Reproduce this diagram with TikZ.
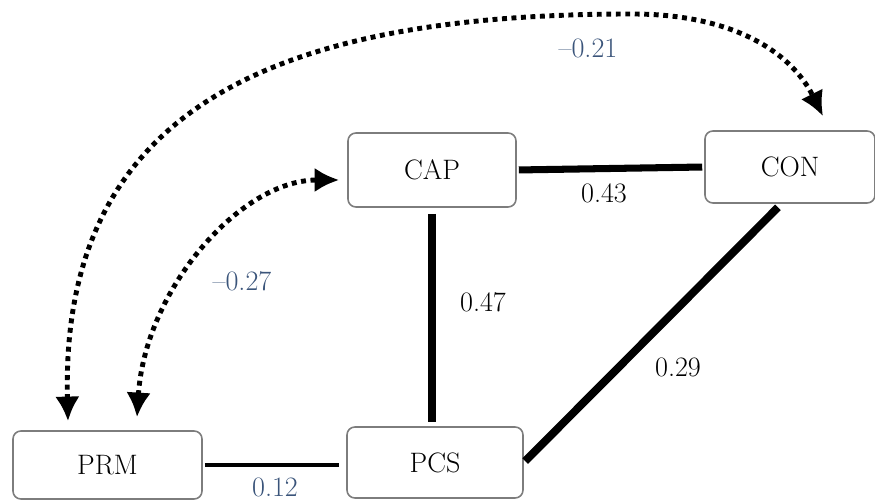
\documentclass[tikz,border=0pt]{standalone}
\usepackage{tikz}
\usetikzlibrary{arrows.meta}

\definecolor{boxgray}{RGB}{125,125,125}
\definecolor{coefblue}{RGB}{58,84,122}

\tikzset{
  var/.style={draw=boxgray, line width=0.9pt, rounded corners=4.5pt, inner sep=0pt, font=\fontsize{16}{19}\selectfont},
  coef/.style={font=\fontsize{16}{19}\selectfont, inner sep=1pt},
  cov/.style={line width=2.8pt, dash pattern=on 2.8pt off 2.6pt, {Latex[length=14pt,width=14pt]}-{Latex[length=14pt,width=14pt]}},
  path/.style={line width=#1}
}

\begin{document}
\begin{tikzpicture}[scale=1]
\color{black}
\useasboundingbox (0,0) rectangle (17.5,10);

% variables
\node[var, minimum width=3.36cm, minimum height=1.48cm] (cap) at (8.64,6.6) {CAP};
\node[var, minimum width=3.4cm, minimum height=1.44cm] (con) at (15.8,6.66) {CON};
\node[var, minimum width=3.78cm, minimum height=1.36cm] (prm) at (2.15,0.7) {PRM};
\node[var, minimum width=3.52cm, minimum height=1.42cm] (pcs) at (8.7,0.75) {PCS};

% paths
\draw[path=4pt, shorten <=0.04cm, shorten >=0.04cm] (cap.east) -- (con.west);
\draw[path=4.5pt, shorten <=0.12cm, shorten >=0.08cm] (cap.south) -- (cap.south |- pcs.north);
\draw[path=4.5pt, shorten <=0.1cm, shorten >=0.04cm] (con.257) -- (pcs.east);
\draw[path=1.8pt, shorten <=0.04cm, shorten >=0.14cm] (prm.east) -- (prm.east -| pcs.west);

% correlations
\draw[cov] ([xshift=-0.79cm,yshift=0.18cm]prm.north) .. controls (1.2,7.9) and (5.6,9.72) .. (12.64,9.72)
  .. controls (14.6,9.72) and (15.8,9.0) .. ([xshift=0.66cm,yshift=0.28cm]con.north);
\draw[cov] ([xshift=0.59cm,yshift=0.26cm]prm.north) .. controls (2.9,4.2) and (4.8,6.4) .. ([xshift=-0.16cm,yshift=-0.2cm]cap.west);

% coefficients
\node[coef, text=coefblue] (r-prm-con) at (11.76,9.04) {--0.21};
\node[coef, text=coefblue] (r-prm-cap) at (4.84,4.38) {--0.27};
\node[coef] (b-cap-con) at (12.08,6.14) {0.43};
\node[coef] (b-cap-pcs) at (9.66,3.96) {0.47};
\node[coef] (b-con-pcs) at (13.56,2.66) {0.29};
\node[coef, text=coefblue] (b-prm-pcs) at (5.5,0.25) {0.12};
\end{tikzpicture}
\end{document}
